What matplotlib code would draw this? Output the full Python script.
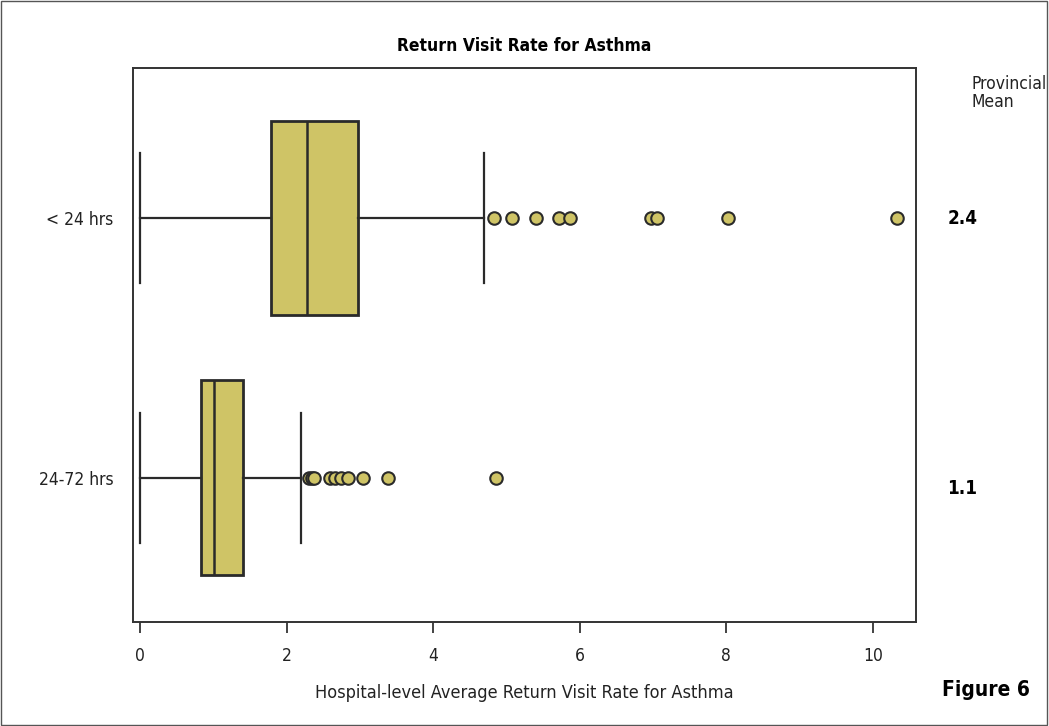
import matplotlib
matplotlib.use("Agg")
import matplotlib.pyplot as plt
from matplotlib.patches import Rectangle

# narrow face if available, otherwise condensed DejaVu
plt.rcParams['font.family'] = ['Liberation Sans Narrow', 'DejaVu Sans']
plt.rcParams['font.stretch'] = 'condensed'

groups = ["< 24 hrs", "24-72 hrs"]
prov_mean = ["2.4", "1.1"]

# five-number summaries per group
q1 = [1.79, 0.83]
median = [2.28, 1.00]
q3 = [2.97, 1.40]
whislo = [0.0, 0.0]
whishi = [4.69, 2.19]
outliers = [
    [4.83, 5.07, 5.40, 5.72, 5.86, 6.97, 7.05, 8.02, 10.33],
    [2.30, 2.35, 2.37, 2.59, 2.66, 2.74, 2.84, 3.04, 3.38, 4.85],
]
positions = [2, 1]

box_color = "#cfc466"
edge = "#2a2a2a"

fig = plt.figure(figsize=(10.49, 7.26), dpi=100)
ax = fig.add_axes([0.1268, 0.1433, 0.8732 - 0.1268, 0.9063 - 0.1433])

stats = []
for i, g in enumerate(groups):
    stats.append(dict(label=g, q1=q1[i], med=median[i], q3=q3[i],
                      whislo=whislo[i], whishi=whishi[i], fliers=outliers[i]))

ax.bxp(stats, positions=positions, vert=False, widths=0.75, patch_artist=True,
       showfliers=True,
       boxprops=dict(facecolor=box_color, edgecolor=edge, linewidth=2),
       medianprops=dict(color=edge, linewidth=1.8),
       whiskerprops=dict(color=edge, linewidth=1.6),
       capprops=dict(color=edge, linewidth=1.6),
       capwidths=0.5,
       flierprops=dict(marker="o", markerfacecolor=box_color, markeredgecolor=edge,
                       markersize=9, markeredgewidth=1.5))

ax.set_xlim(-0.1, 10.59)
ax.set_ylim(0.446, 2.577)
ax.set_xticks([0, 2, 4, 6, 8, 10])
ax.set_yticks(positions)
ax.set_yticklabels(groups)
ax.tick_params(axis="x", length=8, width=1.2, labelsize=12.5, pad=10, colors="#222222")
ax.tick_params(axis="y", length=0, labelsize=12.5, pad=14, colors="#222222")
for sp in ax.spines.values():
    sp.set_linewidth(1.4)
    sp.set_color("#333333")

ax.set_xlabel("Hospital-level Average Return Visit Rate for Asthma",
              fontsize=13, labelpad=14, color="#222222")
ax.set_title("Return Visit Rate for Asthma", fontsize=12.5, fontweight="bold", pad=12)

fig.text(0.926, 0.897, "Provincial\nMean", fontsize=12.5, ha="left", va="top",
         linespacing=1.05, color="#222222")
for pos, m in zip(positions, prov_mean):
    yfig = ax.transData.transform((0, pos))[1] / fig.bbox.height
    fig.text(0.903, yfig - (0.015 if pos == 1 else 0), m, fontsize=13.5,
             fontweight="bold", ha="left", va="center")
fig.text(0.982, 0.05, "Figure 6", fontsize=15, fontweight="bold",
         ha="right", va="center")

fig.patches.append(Rectangle((0.001, 0.001), 0.997, 0.997, transform=fig.transFigure,
                             fill=False, edgecolor="#555555", linewidth=1))

fig.savefig("out.png", dpi=100)
